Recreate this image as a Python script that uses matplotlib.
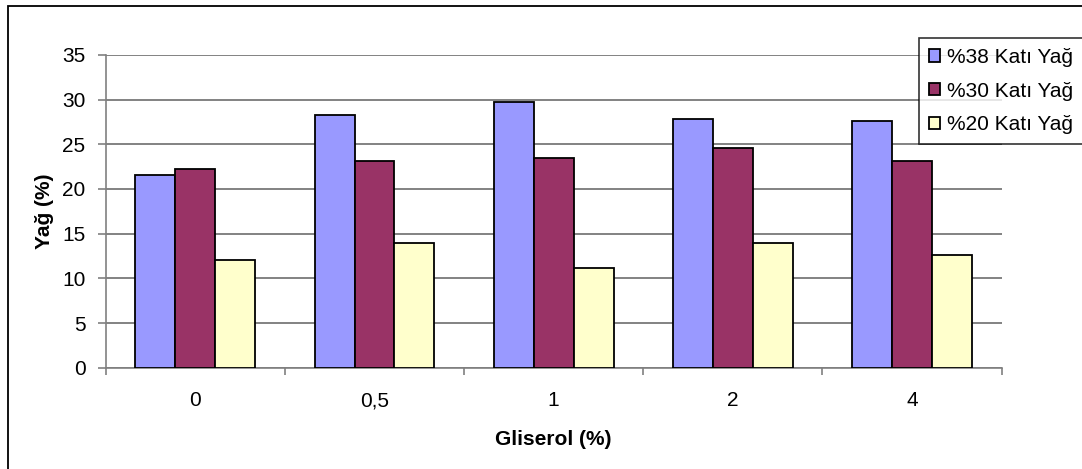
import matplotlib.pyplot as plt
import numpy as np
from matplotlib.patches import Rectangle

plt.rcParams['font.family'] = ['Liberation Sans', 'DejaVu Sans']

# data
categories = ['0', '0,5', '1', '2', '4']
series_names = ['%38 Katı Yağ', '%30 Katı Yağ', '%20 Katı Yağ']
yag38 = [21.6, 28.3, 29.7, 27.8, 27.6]
yag30 = [22.2, 23.1, 23.5, 24.6, 23.1]
yag20 = [12.0, 13.9, 11.1, 13.9, 12.6]
colors = ['#9999ff', '#993366', '#ffffcc']

fs = 15

fig = plt.figure(figsize=(10.82, 4.69), dpi=100)
ax = fig.add_axes([0.0977, 0.216, 0.828, 0.667])

# outer chart border (cropped: only left and top visible)
fig.patches.append(Rectangle((8 / 1082, -0.1), 1.2, 1 - 6 / 469 + 0.1,
                             transform=fig.transFigure, fill=False,
                             edgecolor='black', linewidth=1.3, zorder=0))

x = np.arange(len(categories))
w = 0.223
for i, (vals, name) in enumerate(zip([yag38, yag30, yag20], series_names)):
    ax.bar(x + (i - 1) * w, vals, width=w, color=colors[i], edgecolor='black',
           linewidth=1.3, label=name, zorder=3)

ax.set_xlim(-0.5, len(categories) - 0.5)
ax.set_ylim(0, 35)
ax.set_yticks(np.arange(0, 36, 5))
ax.set_xticks(np.arange(-0.5, len(categories), 1))
ax.set_xticklabels([])
ax.set_xticks(x, minor=True)
ax.set_xticklabels(categories, minor=True)
ax.tick_params(axis='x', which='minor', length=0, pad=17, labelsize=fs)
ax.tick_params(axis='x', which='major', length=5, color='#808080', width=1.2)
ax.tick_params(axis='y', length=6, color='#808080', width=1.2, labelsize=fs, pad=8.5)

ax.grid(axis='y', color='#606060', linewidth=1.1, zorder=0)
for s in ['top', 'right']:
    ax.spines[s].set_visible(False)
ax.spines['left'].set_color('#808080')
ax.spines['bottom'].set_color('#808080')
ax.spines['left'].set_linewidth(1.2)
ax.spines['bottom'].set_linewidth(1.2)

ax.set_ylabel('Yağ (%)', fontsize=fs, fontweight='bold', labelpad=6)
ax.set_xlabel('Gliserol (%)', fontsize=fs, fontweight='bold', labelpad=14.5)

leg = fig.legend(loc='upper left', bbox_to_anchor=(919 / 1082, 1 - 38 / 469),
                 fontsize=fs, frameon=True, fancybox=False, edgecolor='black',
                 handlelength=0.53, handleheight=0.53, handletextpad=0.33,
                 labelspacing=0.7, borderpad=0.48, borderaxespad=0)
leg.get_frame().set_linewidth(1.2)

plt.savefig('out.png', dpi=100)
